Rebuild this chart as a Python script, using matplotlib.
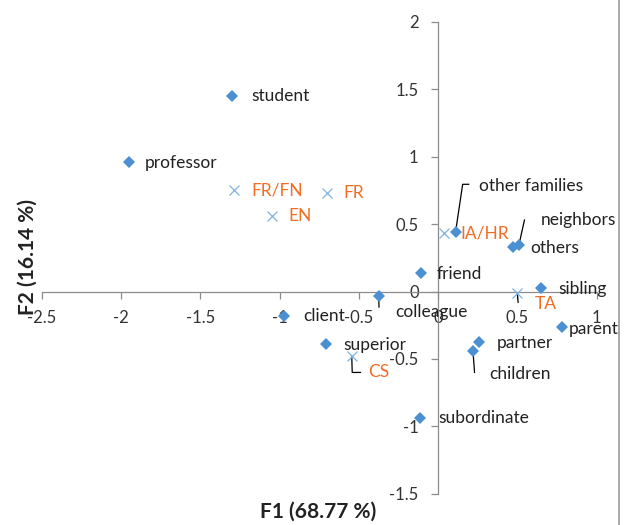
"""Correspondence analysis map: F1 vs F2 with relation types and categories."""

import matplotlib

matplotlib.use("Agg")
import matplotlib.pyplot as plt
from matplotlib.lines import Line2D


# relation points (blue diamonds)
row_names = [
    "student", "professor", "other families", "neighbors", "others", "friend",
    "sibling", "colleague", "client", "parent", "partner", "children",
    "superior", "subordinate",
]
row_f1 = [-1.30, -1.95, 0.11, 0.51, 0.47, -0.11, 0.65, -0.375, -0.97, 0.78, 0.26, 0.22, -0.71, -0.113]
row_f2 = [1.45, 0.96, 0.44, 0.345, 0.33, 0.14, 0.025, -0.035, -0.18, -0.265, -0.375, -0.44, -0.39, -0.935]

# category points (crosses, orange labels)
col_names = ["FR/FN", "FR", "EN", "IA/HR", "TA", "CS"]
col_f1 = [-1.29, -0.70, -1.05, 0.036, 0.50, -0.545]
col_f2 = [0.75, 0.73, 0.56, 0.434, -0.01, -0.48]

# label anchors (left edge, vertical centre), data units
row_label_x = [-1.18, -1.85, 0.26, 0.645, 0.58, -0.01, 0.76, -0.27, -0.85, 0.825, 0.37, 0.325, -0.60, 0.0]
row_label_y = [1.45, 0.95, 0.78, 0.53, 0.32, 0.13, 0.02, -0.15, -0.18, -0.275, -0.38, -0.61, -0.40, -0.94]
col_label_x = [-1.18, -0.60, -0.945, 0.14, 0.61, -0.44]
col_label_y = [0.75, 0.73, 0.56, 0.43, -0.09, -0.60]

DIAMOND_BLUE = "#4a90d2"
CROSS_BLUE = "#7db3e3"
LABEL_ORANGE = "#f26c22"

plt.rcParams.update({"font.family": ["Lato", "DejaVu Sans"]})

fig = plt.figure(figsize=(6.24, 5.25), dpi=100)
ax = fig.add_axes([0.0673, 0.0594, 0.8887, 0.8991])

ax.plot(row_f1, row_f2, linestyle="none", marker="D", markersize=6.3,
        color=DIAMOND_BLUE, markeredgewidth=0, zorder=3)
ax.plot(col_f1, col_f2, linestyle="none", marker="x", markersize=7,
        color=CROSS_BLUE, markeredgewidth=0.9, zorder=3)

for name, x, y in zip(row_names, row_label_x, row_label_y):
    ax.text(x, y, name, fontsize=12.5, color="#222222", ha="left", va="center", zorder=4)
for name, x, y in zip(col_names, col_label_x, col_label_y):
    ax.text(x, y, name, fontsize=12.5, color=LABEL_ORANGE, ha="left", va="center", zorder=4)

# leader lines
leader_style = dict(color="black", linewidth=0.9, zorder=2)
ax.add_line(Line2D([0.11, 0.155, 0.193], [0.44, 0.795, 0.795], **leader_style))
ax.add_line(Line2D([0.51, 0.545], [0.345, 0.53], **leader_style))
ax.add_line(Line2D([-0.375, -0.373], [-0.035, -0.115], **leader_style))
ax.add_line(Line2D([0.50, 0.505], [-0.01, -0.08], **leader_style))
ax.add_line(Line2D([0.22, 0.23], [-0.44, -0.60], **leader_style))
ax.add_line(Line2D([-0.545, -0.542, -0.49], [-0.48, -0.60, -0.60], **leader_style))

ax.set_xlim(-2.5, 1.0)
ax.set_ylim(-1.5, 2.0)
ax.set_xticks([-2.5, -2, -1.5, -1, -0.5, 0, 0.5, 1])
ax.set_yticks([-1.5, -1, -0.5, 0, 0.5, 1, 1.5, 2])
ax.set_xticklabels(["-2.5", "-2", "-1.5", "-1", "-0.5", "0", "0.5", "1"])
ax.set_yticklabels(["-1.5", "-1", "-0.5", "0", "0.5", "1", "1.5", "2"])

ax.spines["left"].set_position(("data", 0))
ax.spines["bottom"].set_position(("data", 0))
ax.spines["top"].set_visible(False)
ax.spines["right"].set_visible(False)
for side in ("left", "bottom"):
    ax.spines[side].set_color("#8c8c8c")
    ax.spines[side].set_linewidth(0.9)
ax.tick_params(axis="both", colors="#8c8c8c", length=5, width=0.9, labelsize=12,
               labelcolor="#333333")
ax.tick_params(axis="x", pad=8)
ax.tick_params(axis="y", pad=9)
ax.patch.set_alpha(0)

fig.text(0.51, 0.025, "F1 (68.77 %)", fontsize=15, fontweight="bold",
         ha="center", va="center", color="#222222")
fig.text(0.045, 0.51, "F2 (16.14 %)", fontsize=15, fontweight="bold",
         rotation=90, ha="center", va="center", color="#222222")

# chart border on the right edge
fig.add_artist(Line2D([0.992, 0.992], [0.0, 1.0], transform=fig.transFigure,
                      color="#9a9a9a", linewidth=1.2))

fig.savefig("out.png", dpi=100)
plt.close(fig)
